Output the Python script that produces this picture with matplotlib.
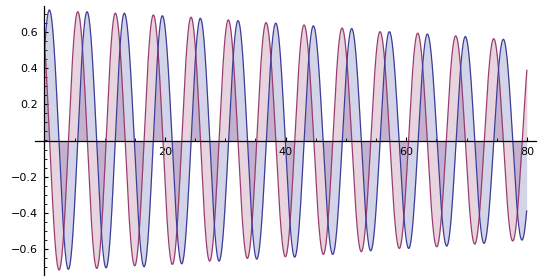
import numpy as np
import matplotlib
matplotlib.use("Agg")
import matplotlib.pyplot as plt

# Extrema (x position, value), in order, for each curve
pink_x = [-0.69, 2.44, 5.54, 8.69, 11.77, 14.98, 18.07, 21.22, 24.32, 27.40, 30.50,
          33.65, 36.75, 39.95, 43.05, 46.25, 49.35, 52.54, 55.65, 58.84, 61.89,
          65.04, 68.19, 71.34, 74.49, 77.64, 80.77]
pink_y = [0.715, -0.714, 0.710, -0.705, 0.702, -0.691, 0.692, -0.683, 0.680, -0.665,
          0.665, -0.650, 0.650, -0.641, 0.637, -0.628, 0.620, -0.613, 0.600, -0.595,
          0.592, -0.586, 0.577, -0.571, 0.561, -0.554, 0.548]

blue_x = [-2.30, 0.83, 3.98, 7.08, 10.23, 13.26, 16.53, 19.56, 22.77, 25.86, 28.96,
          32.11, 35.21, 38.36, 41.50, 44.59, 47.80, 50.95, 54.10, 57.19, 60.40,
          63.49, 66.70, 69.79, 72.88, 76.09, 79.17, 82.30]
blue_y = [-0.720, 0.720, -0.710, 0.710, -0.702, 0.702, -0.696, 0.688, -0.680, 0.674,
          -0.665, 0.661, -0.654, 0.647, -0.643, 0.632, -0.628, 0.617, -0.608, 0.600,
          -0.595, 0.587, -0.582, 0.573, -0.567, 0.558, -0.549, 0.545]

x_range = (0, 80)
x_major = [20, 40, 60, 80]
y_major = [-0.6, -0.4, -0.2, 0.2, 0.4, 0.6]
y_labels = ["\u22120.6", "\u22120.4", "\u22120.2", "0.2", "0.4", "0.6"]


def smooth_through_extrema(ex_x, ex_y, lo, hi, n=60):
    xs, ys = [], []
    for i in range(len(ex_x) - 1):
        t = np.linspace(0, 1, n, endpoint=False)
        xa, xb, ya, yb = ex_x[i], ex_x[i + 1], ex_y[i], ex_y[i + 1]
        xs.append(xa + (xb - xa) * t)
        ys.append((ya + yb) / 2 + (ya - yb) / 2 * np.cos(np.pi * t))
    xs = np.concatenate(xs)
    ys = np.concatenate(ys)
    m = (xs >= lo) & (xs <= hi)
    return xs[m], ys[m]


blue_c = (0.24, 0.24, 0.6)
pink_c = (0.6, 0.24, 0.442)

fig = plt.figure(figsize=(5.5, 2.8), dpi=100)
ax = fig.add_axes([35.3 / 550, 5.3 / 280, (536.0 - 35.3) / 550, 268.4 / 280])

for ex_x, ex_y, c in [(pink_x, pink_y, pink_c), (blue_x, blue_y, blue_c)]:
    xx, yy = smooth_through_extrema(ex_x, ex_y, *x_range)
    ax.fill_between(xx, yy, 0, color=c, alpha=0.22, lw=0)
    ax.plot(xx, yy, color=c, lw=0.9)

ax.set_xlim(-1.5, 81.5)
ax.set_ylim(-0.74, 0.74)

for s in ["top", "right"]:
    ax.spines[s].set_visible(False)
ax.spines["left"].set_position(("data", 0))
ax.spines["bottom"].set_position(("data", 0))
for s in ["left", "bottom"]:
    ax.spines[s].set_linewidth(0.9)
    ax.spines[s].set_color("black")

ax.set_xticks(x_major)
ax.set_xticklabels([str(v) for v in x_major])
ax.set_xticks(np.arange(5, 81, 5), minor=True)
ax.set_yticks(y_major)
ax.set_yticklabels(y_labels)
ax.set_yticks(np.arange(-0.7, 0.71, 0.05), minor=True)

ax.tick_params(axis="both", which="major", direction="in", length=3.2, width=0.8,
               labelsize=8, pad=4.5, colors="black")
ax.tick_params(axis="both", which="minor", direction="in", length=2.0, width=0.6)
ax.patch.set_alpha(0)

fig.savefig("out.png", dpi=100)
